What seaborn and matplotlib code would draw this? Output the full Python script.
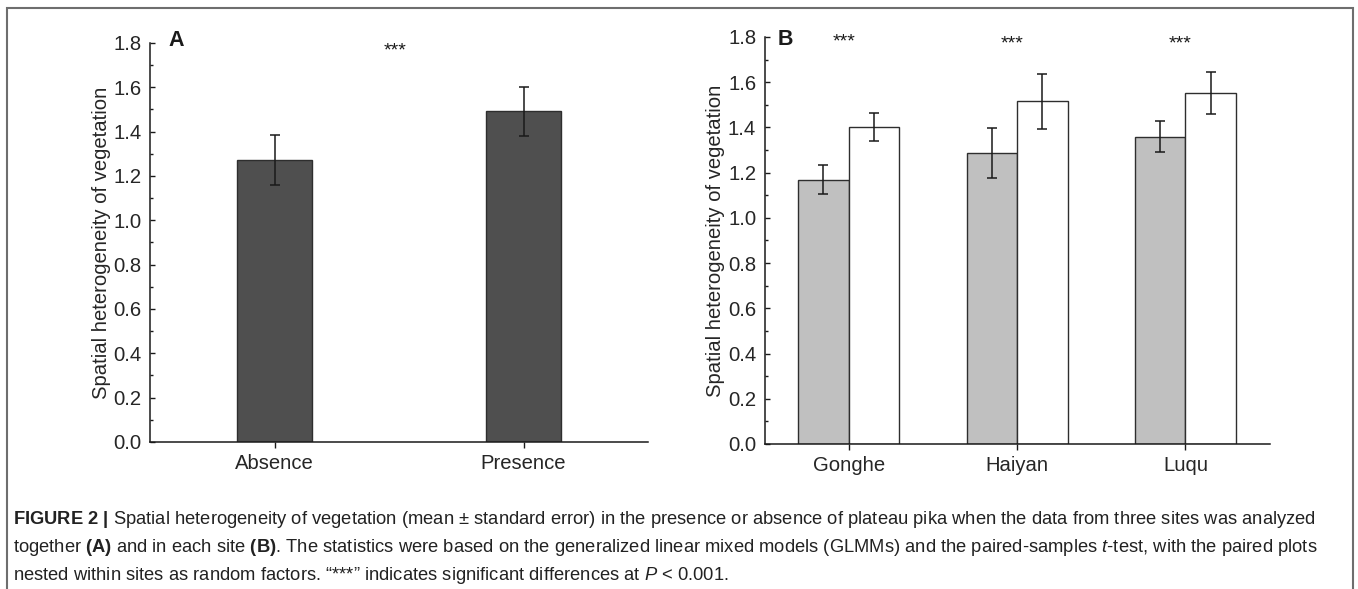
import numpy as np
import pandas as pd

import matplotlib
matplotlib.use("Agg")
import matplotlib.pyplot as plt
from matplotlib.patches import Rectangle
from matplotlib.ticker import MultipleLocator
import seaborn as sns


# DATA
pika_status = ["Absence", "Presence"]
pooled_mean = [1.273, 1.491]
pooled_se = [0.113, 0.111]

sites = ["Gonghe", "Haiyan", "Luqu"]
absence_mean = [1.168, 1.287, 1.359]
absence_se = [0.064, 0.111, 0.068]
presence_mean = [1.403, 1.516, 1.551]
presence_se = [0.062, 0.121, 0.092]

star_labels = ["***", "***", "***"]
star_height = [1.78, 1.77, 1.77]


# STYLE
sns.set_style("ticks")
plt.rcParams["font.family"] = ["Liberation Sans", "DejaVu Sans"]
plt.rcParams["mathtext.fontset"] = "custom"
plt.rcParams["mathtext.rm"] = "Liberation Sans"
plt.rcParams["mathtext.it"] = "Liberation Sans:italic"
plt.rcParams["mathtext.bf"] = "Liberation Sans:bold"

ink = "#1a1a1a"
ylabel = "Spatial heterogeneity of vegetation"
fs = 14.6


def style_axis(ax):
    sns.despine(ax=ax)
    for s in ["left", "bottom"]:
        ax.spines[s].set_linewidth(1.1)
        ax.spines[s].set_color(ink)
    ax.set_ylim(0, 1.8)
    ax.yaxis.set_major_locator(MultipleLocator(0.2))
    ax.yaxis.set_minor_locator(MultipleLocator(0.1))
    ax.yaxis.set_major_formatter(plt.FuncFormatter(lambda v, p: f"{v:.1f}"))
    ax.tick_params(axis="y", which="major", direction="in", length=3.5,
                   width=1.0, labelsize=fs, pad=6, color=ink)
    ax.tick_params(axis="y", which="minor", direction="in", length=2.5,
                   width=1.0, color=ink)
    ax.tick_params(axis="x", direction="out", length=4.5, width=1.0,
                   labelsize=fs, pad=4, color=ink)
    ax.set_xlabel("")
    ax.set_ylabel(ylabel, fontsize=fs, labelpad=2)


fig = plt.figure(figsize=(13.58, 5.89), dpi=100)


# PANEL A
df_a = pd.DataFrame({"status": pika_status, "mean": pooled_mean})
ax_a = fig.add_axes([0.1105, 0.2496, 0.3667, 0.6774])

sns.barplot(
    data=df_a, x="status", y="mean", order=pika_status,
    color="#4f4f4f", saturation=1, width=0.3,
    edgecolor="#2e2e2e", linewidth=1.0, errorbar=None, ax=ax_a
)
for bar, se in zip(ax_a.containers[0], pooled_se):
    ax_a.errorbar(bar.get_x() + bar.get_width() / 2, bar.get_height(),
                  yerr=se, fmt="none", ecolor=ink, elinewidth=1.1,
                  capsize=3.3, capthick=1.1)

ax_a.set_xlim(-0.5, 1.5)
style_axis(ax_a)
ax_a.text(0.485, 1.765, "***", ha="center", va="center", fontsize=14, color=ink)
ax_a.text(0.036, 1.81, "A", transform=ax_a.get_yaxis_transform(),
          ha="left", va="center", fontsize=15.5, fontweight="bold", color=ink)


# PANEL B
df_b = pd.DataFrame({
    "site": sites * 2,
    "pika": ["Absence"] * 3 + ["Presence"] * 3,
    "mean": absence_mean + presence_mean,
})
ax_b = fig.add_axes([0.563, 0.2462, 0.3719, 0.691])

sns.barplot(
    data=df_b, x="site", y="mean", hue="pika", order=sites,
    hue_order=pika_status, palette=["#c0c0c0", "#ffffff"], saturation=1,
    width=0.6, edgecolor="#2e2e2e", linewidth=1.0, errorbar=None,
    legend=False, ax=ax_b
)
for container, ses in zip(ax_b.containers, [absence_se, presence_se]):
    for bar, se in zip(container, ses):
        ax_b.errorbar(bar.get_x() + bar.get_width() / 2, bar.get_height(),
                      yerr=se, fmt="none", ecolor=ink, elinewidth=1.1,
                      capsize=3.3, capthick=1.1)

ax_b.set_xlim(-0.5, 2.5)
style_axis(ax_b)
for i, (lab, h) in enumerate(zip(star_labels, star_height)):
    ax_b.text(i - 0.03, h, lab, ha="center", va="center", fontsize=14, color=ink)
ax_b.text(0.025, 1.79, "B", transform=ax_b.get_yaxis_transform(),
          ha="left", va="center", fontsize=15.5, fontweight="bold", color=ink)


# FRAME + CAPTION
fig.patches.append(Rectangle(
    (7 / 1358, -0.05), (1353 - 7) / 1358, 1.05 - 8 / 589,
    transform=fig.transFigure, fill=False, edgecolor="#6e6e6e", linewidth=1.5
))

cap_x = 13 / 1358
cap_size = 13.2
fig.text(cap_x, 1 - 520 / 589,
         r"$\bf{FIGURE\ 2\ |}$ Spatial heterogeneity of vegetation (mean ± standard error) "
         r"in the presence or absence of plateau pika when the data from three sites was analyzed",
         ha="left", va="center", fontsize=cap_size, color="#222222")
fig.text(cap_x, 1 - 548 / 589,
         r"together $\bf{(A)}$ and in each site $\bf{(B)}$. The statistics were based on the "
         r"generalized linear mixed models (GLMMs) and the paired-samples $\it{t}$-test, with the paired plots",
         ha="left", va="center", fontsize=cap_size, color="#222222")
fig.text(cap_x, 1 - 575 / 589,
         r"nested within sites as random factors. “***” indicates significant differences at $\it{P}$ < 0.001.",
         ha="left", va="center", fontsize=cap_size, color="#222222")

fig.savefig("out.png", dpi=100)
